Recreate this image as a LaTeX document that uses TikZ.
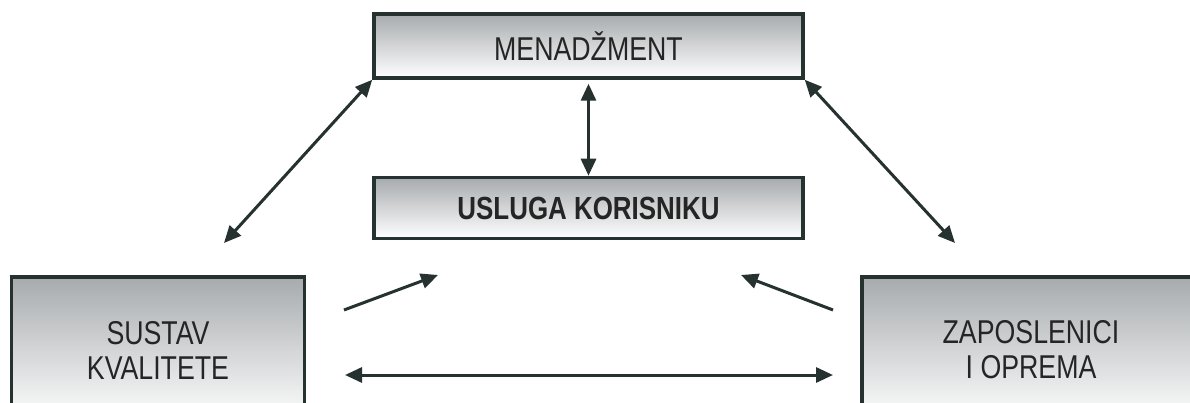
\documentclass[tikz,border=0pt]{standalone}
\usepackage{fontspec}
\newfontfamily\narrowsans[FakeStretch=0.81]{Liberation Sans}
\usetikzlibrary{arrows.meta}
\definecolor{edge}{HTML}{263230}
\definecolor{boxtop}{HTML}{A7ABAE}
\definecolor{boxmid}{HTML}{D3D5D6}
\definecolor{txt}{HTML}{252525}
\tikzset{
  gbox/.style={draw=edge, line width=3.5pt, rectangle, inner sep=0pt,
    top color=boxtop, bottom color=white, middle color=boxmid,
    font=\narrowsans\fontsize{33}{35}\selectfont, text=txt, align=center},
  conn/.style={draw=edge, line width=3pt,
    -{Triangle[length=17pt,width=15pt]}},
  dconn/.style={draw=edge, line width=3pt,
    {Triangle[length=17pt,width=15pt]}-{Triangle[length=17pt,width=15pt]}}
}
\begin{document}
\begin{tikzpicture}[x=1pt,y=-1pt]
\useasboundingbox (0,0) rectangle (1190,403);
\fill[white] (0,0) rectangle (1190,403);
\clip (0,0) rectangle (1190,403);
\node[gbox, minimum width=429pt, minimum height=64pt] (men) at (588.5,46) {MENADŽMENT};
\node[gbox, minimum width=429pt, minimum height=61pt, font=\narrowsans\bfseries\fontsize{32}{35}\selectfont] (usl) at (588.5,208) {\raisebox{-3pt}{USLUGA KORISNIKU}};
\node[gbox, minimum width=293pt, minimum height=146pt] (sus) at (158,350) {SUSTAV\\KVALITETE};
\node[gbox, minimum width=338pt, minimum height=146pt] (zap) at (1031,350) {ZAPOSLENICI\\I OPREMA};
\coordinate (dl) at (224,243);
\coordinate (dr) at (955,243);
\coordinate (la) at (344,310);
\coordinate (lb) at (438,275);
\coordinate (ra) at (833,310);
\coordinate (rb) at (741,275);
\coordinate (ba) at (345,375);
\coordinate (bb) at (833,375);
\draw[dconn] (men.south west) -- (dl);
\draw[dconn] (men.south east) -- (dr);
\draw[dconn, shorten <=4pt] (men.south) -- (usl.north);
\draw[conn] (la) -- (lb);
\draw[conn] (ra) -- (rb);
\draw[dconn] (ba) -- (bb);
\end{tikzpicture}
\end{document}
